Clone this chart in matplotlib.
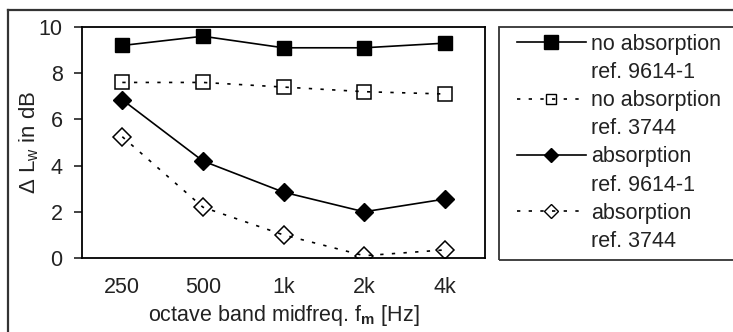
import matplotlib
matplotlib.use('Agg')
import matplotlib.pyplot as plt
from matplotlib.lines import Line2D
from matplotlib.patches import Rectangle

plt.rcParams['font.family'] = ['Liberation Sans', 'DejaVu Sans']
plt.rcParams['mathtext.fontset'] = 'custom'
plt.rcParams['mathtext.rm'] = 'Liberation Sans'
plt.rcParams['mathtext.bf'] = 'Liberation Sans:bold'

bands = ['250', '500', '1k', '2k', '4k']
no_abs_9614 = [9.2, 9.6, 9.1, 9.1, 9.3]
no_abs_3744 = [7.6, 7.6, 7.4, 7.2, 7.1]
abs_9614 = [6.85, 4.2, 2.85, 2.0, 2.55]
abs_3744 = [5.25, 2.2, 1.0, 0.1, 0.35]
yticks = [0, 2, 4, 6, 8, 10]

W, H = 733, 332
fs = 15.5
dots = (0, (2, 5))

fig = plt.figure(figsize=(W / 100, H / 100), dpi=100)
ax = fig.add_axes([82 / W, 1 - 258 / H, 403 / W, 231 / H])

x = range(len(bands))
ax.plot(x, no_abs_9614, color='black', lw=1.2, marker='s', ms=10.5, mfc='black', mec='black')
ax.plot(x, no_abs_3744, color='black', lw=1.2, ls=dots, marker='s', ms=10, mfc='none', mec='black', mew=1.1)
ax.plot(x, abs_9614, color='black', lw=1.2, marker='D', ms=9, mfc='black', mec='black')
ax.plot(x, abs_3744, color='black', lw=1.2, ls=dots, marker='D', ms=9, mfc='none', mec='black', mew=1.1)

ax.set_xlim(-0.5, 4.5)
ax.set_ylim(0, 10)
ax.set_xticks(list(x))
ax.set_xticklabels(bands)
ax.set_yticks(yticks)
ax.tick_params(axis='x', length=0, pad=14, labelsize=fs, colors='#222222')
ax.tick_params(axis='y', length=6, width=1.2, pad=8, labelsize=fs, colors='#222222')
for s in ax.spines.values():
    s.set_linewidth(1.3)
ax.set_xlabel(r'octave band midfreq. f$_\mathbf{m}$ [Hz]', fontsize=fs, color='#222222', labelpad=3)
ax.set_ylabel(r'Δ L$_\mathrm{w}$ in dB', fontsize=fs + 0.5, color='#222222', labelpad=-2)

# outer chart frame (cut off at right/bottom)
fig.add_artist(Line2D([8 / W, 8 / W], [0, 1 - 10 / H], color='#333333', lw=1.6, transform=fig.transFigure))
fig.add_artist(Line2D([8 / W, 1], [1 - 10 / H, 1 - 10 / H], color='#333333', lw=1.6, transform=fig.transFigure))

# legend
blank = Line2D([], [], ls='none')
handles = [
    Line2D([], [], color='black', lw=1.2, marker='s', ms=10, mfc='black', mec='black'), blank,
    Line2D([], [], color='black', lw=1.2, ls=dots, marker='s', ms=6.5, mfc='none', mec='black'), blank,
    Line2D([], [], color='black', lw=1.2, marker='D', ms=7.5, mfc='black', mec='black'), blank,
    Line2D([], [], color='black', lw=1.2, ls=dots, marker='D', ms=7.5, mfc='none', mec='black'), blank,
]
labels = ['no absorption', 'ref. 9614-1', 'no absorption', 'ref. 3744',
          'absorption', 'ref. 9614-1', 'absorption', 'ref. 3744']
leg = fig.legend(handles, labels, loc='upper left', bbox_to_anchor=(517 / W, 1 - 34 / H),
                 frameon=False, fontsize=fs, handlelength=3.2, handletextpad=0.25,
                 borderpad=0, borderaxespad=0, labelspacing=0.33)
for t in leg.get_texts():
    t.set_color('#222222')
fig.add_artist(Rectangle((499 / W, 1 - 260 / H), 0.5, 233 / H, fill=False, ec='#333333',
                         lw=1.3, transform=fig.transFigure))

fig.savefig('out.png', dpi=100)
